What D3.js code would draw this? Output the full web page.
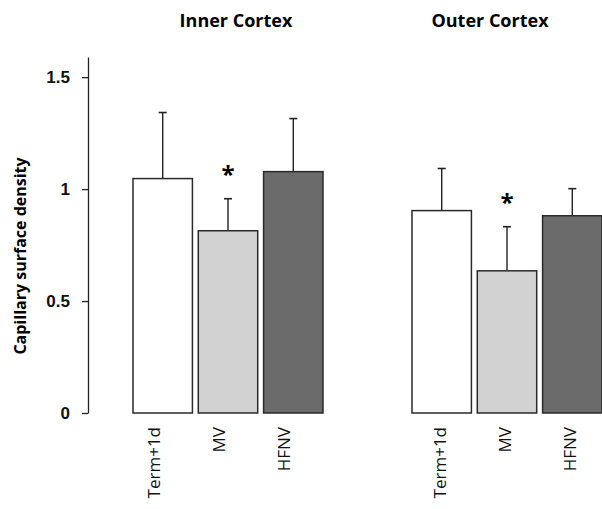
<!DOCTYPE html>
<html>
<head>
<meta charset="utf-8">
<script src="https://cdn.jsdelivr.net/npm/d3@7"></script>
<style>
  body { margin: 0; background: #fff; }
  svg { display: block; font-family: "Open Sans", "DejaVu Sans", sans-serif; }
</style>
</head>
<body>
<div class="bar-chart"></div>
<script>
const WIDTH = 602, HEIGHT = 509;

// data
const groups = ["Inner Cortex", "Outer Cortex"];
const treatments = ["Term+1d", "MV", "HFNV"];
const means = [[1.047, 0.814, 1.078], [0.904, 0.635, 0.881]];
const errors = [[0.295, 0.143, 0.237], [0.188, 0.197, 0.121]];
const significant = [[false, true, false], [false, true, false]];
const yTicks = [0, 0.5, 1, 1.5];
const fills = ["#ffffff", "#d2d2d2", "#6b6b6b"];

var svg = d3.select('.bar-chart')
    .append('svg')
    .attr('width', WIDTH)
    .attr('height', HEIGHT);

var y = d3.scaleLinear().domain([0, 1.59]).range([413, 57]);

var x0 = d3.scaleBand().domain(groups).range([133, 602]).paddingInner(0.319);
var x1 = d3.scaleBand().domain(treatments).range([0, x0.bandwidth()]).paddingInner(0.09);

// y axis
var yAxis = svg.append("g")
    .attr("transform", "translate(88,0)")
    .call(d3.axisLeft(y).tickValues(yTicks).tickSize(6).tickSizeOuter(0).tickPadding(12)
        .tickFormat(function(d){ return d; }));
yAxis.select(".domain").attr("stroke", "#222").attr("stroke-width", 1.3);
yAxis.selectAll(".tick line").attr("stroke", "#222").attr("stroke-width", 1.3);
yAxis.selectAll(".tick text")
    .style("font-size", "17px")
    .style("font-weight", "bold")
    .attr("fill", "#111");

svg.append("text")
    .attr("transform", "translate(26,256) rotate(-90)")
    .attr("text-anchor", "middle")
    .style("font-size", "16px")
    .style("font-weight", "bold")
    .text("Capillary surface density");

// label shift per group (inner labels sit left of their bars)
const labelShift = [-9, -2];

groups.forEach(function(g, gi) {
    var gx = x0(g);
    var rows = treatments.map(function(t, ti) {
        return { t: t, ti: ti, mean: means[gi][ti], err: errors[gi][ti], sig: significant[gi][ti] };
    });
    var grp = svg.append("g").attr("transform", "translate(" + gx + ",0)");

    // error bars behind
    grp.selectAll(".err").data(rows).enter().append("line")
        .attr("x1", function(d){ return x1(d.t) + x1.bandwidth() / 2; })
        .attr("x2", function(d){ return x1(d.t) + x1.bandwidth() / 2; })
        .attr("y1", function(d){ return y(d.mean); })
        .attr("y2", function(d){ return y(d.mean + d.err); })
        .attr("stroke", "#222").attr("stroke-width", 1.4);
    grp.selectAll(".cap").data(rows).enter().append("line")
        .attr("x1", function(d){ return x1(d.t) + x1.bandwidth() / 2 - 4; })
        .attr("x2", function(d){ return x1(d.t) + x1.bandwidth() / 2 + 4; })
        .attr("y1", function(d){ return y(d.mean + d.err); })
        .attr("y2", function(d){ return y(d.mean + d.err); })
        .attr("stroke", "#222").attr("stroke-width", 1.6);

    grp.selectAll(".bar").data(rows).enter().append("rect")
        .attr("x", function(d){ return x1(d.t); })
        .attr("y", function(d){ return y(d.mean); })
        .attr("width", x1.bandwidth())
        .attr("height", function(d){ return y(0) - y(d.mean); })
        .attr("fill", function(d){ return fills[d.ti]; })
        .attr("stroke", "#2a2a2a").attr("stroke-width", 1.5);

    grp.selectAll(".star").data(rows.filter(function(d){ return d.sig; })).enter().append("text")
        .attr("x", function(d){ return x1(d.t) + x1.bandwidth() / 2; })
        .attr("y", function(d){ return y(d.mean + d.err) - 16; })
        .attr("text-anchor", "middle")
        .style("font-size", "24px")
        .style("font-weight", "bold")
        .text("*");

    grp.selectAll(".xlab").data(rows).enter().append("text")
        .attr("transform", function(d){
            return "translate(" + (x1(d.t) + x1.bandwidth() / 2 + labelShift[gi] + 6) + ",427) rotate(-90)";
        })
        .attr("text-anchor", "end")
        .style("font-size", "17px")
        .attr("fill", "#111")
        .text(function(d){ return d.t; });

    svg.append("text")
        .attr("x", gx + x0.bandwidth() / 2 + (gi == 0 ? 8 : -17))
        .attr("y", 27)
        .attr("text-anchor", "middle")
        .style("font-size", "18px")
        .style("font-weight", "bold")
        .text(g);
});
</script>
</body>
</html>
